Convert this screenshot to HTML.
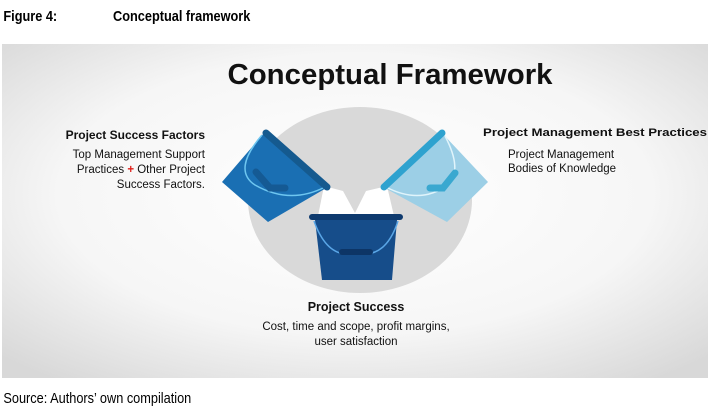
<!DOCTYPE html>
<html><head><style>
body{margin:0;background:#fff;width:713px;height:418px;overflow:hidden}
svg{display:block}
</style></head><body>
<svg width="713" height="418" viewBox="0 0 713 418" xmlns="http://www.w3.org/2000/svg" font-family="Liberation Sans, Arial, sans-serif">
<defs>
<radialGradient id="bg" cx="0.5" cy="0.45" r="0.7">
<stop offset="0" stop-color="#ffffff"/><stop offset="0.6" stop-color="#f6f6f6"/><stop offset="1" stop-color="#d8d8d8"/>
</radialGradient>
</defs>
<text x="4" y="21" font-size="15" font-weight="bold" transform="scale(0.85 1)" fill="#000">Figure 4:</text>
<text x="133" y="21" font-size="15" font-weight="bold" transform="scale(0.85 1)" fill="#000">Conceptual framework</text>
<rect x="2" y="44" width="706" height="334" fill="url(#bg)"/>
<text x="390" y="84" font-size="28.5" font-weight="bold" text-anchor="middle" fill="#111" textLength="325" lengthAdjust="spacingAndGlyphs">Conceptual Framework</text>
<ellipse cx="360" cy="200" rx="112" ry="93" fill="#d9d9d9"/>
<!-- white streams -->
<polygon points="324,186 343,191 355,213 366,191 387,186 394,216 318,216" fill="#fff"/>
<!-- left bucket -->
<polygon points="265,132 328,187 268,222 222,182" fill="#1a6fb3"/>
<path d="M262,135 Q232,170 255,185 Q290,205 325,187" fill="none" stroke="#6ec6f0" stroke-width="1.5"/>
<path d="M256,172 L270,188 L285,188" fill="none" stroke="#155a94" stroke-width="7" stroke-linecap="round"/>
<line x1="266" y1="133" x2="327" y2="187" stroke="#155a8f" stroke-width="7" stroke-linecap="round"/>
<!-- right bucket -->
<polygon points="442,133 383,187 447,222 488,182" fill="#9ccfe6"/>
<path d="M445,136 Q463,170 448,185 Q420,205 386,187" fill="none" stroke="#e0f4fb" stroke-width="1.5"/>
<path d="M455,173 L443,188 L430,188" fill="none" stroke="#3aa8d0" stroke-width="7" stroke-linecap="round"/>
<line x1="442" y1="133" x2="384" y2="187" stroke="#2ea2cf" stroke-width="7" stroke-linecap="round"/>
<!-- center bucket -->
<polygon points="315,220 397,220 392,280 322,280" fill="#164d8a"/>
<path d="M314,221 Q325,252 345,254 L367,254 Q388,252 398,221" fill="none" stroke="#5aa6e6" stroke-width="1.5"/>
<line x1="342" y1="252" x2="370" y2="252" stroke="#0d3566" stroke-width="6" stroke-linecap="round"/>
<line x1="312" y1="217" x2="400" y2="217" stroke="#0e3a6e" stroke-width="6" stroke-linecap="round"/>
<!-- labels -->
<g font-size="12" fill="#111">
<text x="205" y="139" font-weight="bold" text-anchor="end">Project Success Factors</text>
<text x="205" y="158" text-anchor="end" font-size="11.5">Top Management Support</text>
<text x="205" y="173" text-anchor="end" font-size="11.5">Practices <tspan fill="#e0201a" font-weight="bold">+</tspan> Other Project</text>
<text x="205" y="188" text-anchor="end" font-size="11.5">Success Factors.</text>
<text x="483" y="136" font-weight="bold" font-size="11.3" textLength="224" lengthAdjust="spacingAndGlyphs">Project Management Best Practices</text>
<text x="508" y="158" font-size="11.5">Project Management</text>
<text x="508" y="172" font-size="11.5">Bodies of Knowledge</text>
<text x="356" y="311" font-weight="bold" font-size="12.5" text-anchor="middle">Project Success</text>
<text x="356" y="330" font-size="11.5" text-anchor="middle">Cost, time and scope, profit margins,</text>
<text x="356" y="345" font-size="11.5" text-anchor="middle">user satisfaction</text>
</g>
<text x="4" y="403" font-size="15" transform="scale(0.85 1)" fill="#000">Source: Authors’ own compilation</text>
</svg>
</body></html>
